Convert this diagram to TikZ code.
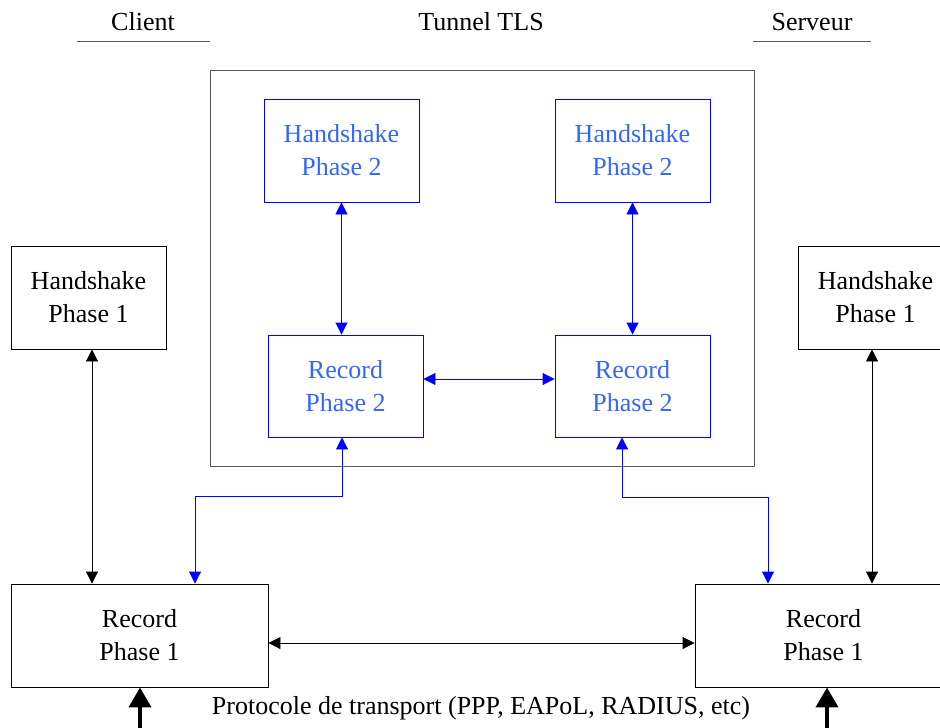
\documentclass[tikz,border=0pt]{standalone}
\usepackage{fontspec}
\setmainfont{Liberation Serif}
\usetikzlibrary{arrows.meta}

\definecolor{linkblue}{RGB}{0,0,255}
\definecolor{textblue}{RGB}{51,102,255}
\definecolor{framegray}{RGB}{90,90,90}

\tikzset{
  box/.style={draw=black, line width=0.9pt, rectangle, inner sep=0pt,
    minimum width=155pt, minimum height=103pt, align=center,
    font=\fontsize{26}{33}\selectfont},
  widebox/.style={box, minimum width=257pt},
  bluebox/.style={box, draw=linkblue, text=textblue},
  lbl/.style={font=\fontsize{26}{33}\selectfont, inner sep=0pt},
  link/.style={line width=0.9pt, {Triangle[length=12pt,width=12pt]}-{Triangle[length=12pt,width=12pt]}},
  bluelink/.style={link, draw=linkblue},
  feed/.style={line width=4pt, -{Triangle[length=20pt,width=22pt]}},
  rule/.style={draw=framegray, line width=0.9pt}
}

\begin{document}
\begin{tikzpicture}[x=1pt, y=-1pt]
\useasboundingbox (0,0) rectangle (940,728);
\clip (0,0) rectangle (940,728);

% column headings
\node[lbl] (client) at (143,22) {Client};
\node[lbl] (tunnel) at (481,22) {Tunnel TLS};
\node[lbl] (server) at (812,22) {Serveur};
\draw[rule] (77,41) -- (210,41);
\draw[rule] (753,41) -- (871,41);

% TLS tunnel frame
\draw[rule] (210,70) rectangle (754,466);

% phase 1 blocks
\node[box] (hs1L) at (88.5,297.5) {Handshake\\Phase 1};
\node[box] (hs1R) at (875.5,297.5) {Handshake\\Phase 1};
\node[widebox] (rp1L) at (139.5,635.5) {Record\\Phase 1};
\node[widebox] (rp1R) at (823.5,635.5) {Record\\Phase 1};

% phase 2 blocks inside the tunnel
\node[bluebox] (hs2L) at (341.5,150.5) {Handshake\\Phase 2};
\node[bluebox] (hs2R) at (632.5,150.5) {Handshake\\Phase 2};
\node[bluebox, minimum height=102pt] (rp2L) at (345.5,386) {Record\\Phase 2};
\node[bluebox, minimum height=102pt] (rp2R) at (632.5,386) {Record\\Phase 2};

% phase 1 links
\draw[link] ([xshift=3.5pt]hs1L.south) -- ([xshift=3.5pt]hs1L.south |- rp1L.north);
\draw[link] ([xshift=-3.5pt]hs1R.south) -- ([xshift=-3.5pt]hs1R.south |- rp1R.north);
\draw[link] ([yshift=-7.5pt]rp1L.east) -- ([yshift=-7.5pt]rp1R.west);

% phase 2 links
\draw[bluelink] (hs2L.south) -- (hs2L.south |- rp2L.north);
\draw[bluelink] (hs2R.south) -- (hs2R.south |- rp2R.north);
\draw[bluelink] ([yshift=7pt]rp2L.east) -- ([yshift=7pt]rp2R.west);

% records of phase 2 carried by records of phase 1
\coordinate (jl) at (195,496);
\coordinate (jr) at (768,497);
\draw[bluelink] ([xshift=-3.5pt]rp2L.south) |- (jl) -- (jl |- rp1L.north);
\draw[bluelink] ([xshift=-10.5pt]rp2R.south) |- (jr) -- (jr |- rp1R.north);

% transport
\coordinate (inL) at (140,740);
\coordinate (inR) at (827,740);
\draw[feed] (inL) -- (inL |- rp1L.south);
\draw[feed] (inR) -- (inR |- rp1R.south);
\node[lbl] (transport) at (481,708) {Protocole de transport (PPP, EAPoL, RADIUS, etc)};
\end{tikzpicture}
\end{document}
